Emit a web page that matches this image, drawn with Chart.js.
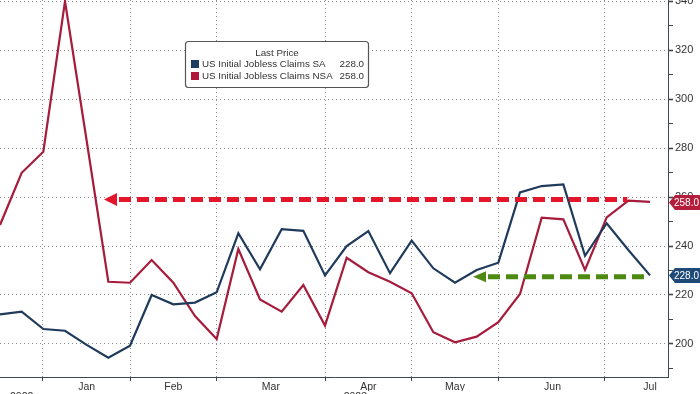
<!DOCTYPE html>
<html>
<head>
<meta charset="utf-8">
<script src="https://cdn.jsdelivr.net/npm/chart.js@4.4.0/dist/chart.umd.min.js"></script>
<style>
  html, body { margin:0; padding:0; background:#fff; overflow:hidden; }
  #wrap { width:700px; height:408px; }
</style>
</head>
<body>
<div id="wrap"><canvas id="grafica" width="700" height="408"></canvas></div>
<script>
// Datos semanales (fin de semana), eje x = indice de semana
const semanas = ['2022-12-17','2022-12-24','2022-12-31','2023-01-07','2023-01-14','2023-01-21','2023-01-28',
  '2023-02-04','2023-02-11','2023-02-18','2023-02-25','2023-03-04','2023-03-11','2023-03-18','2023-03-25',
  '2023-04-01','2023-04-08','2023-04-15','2023-04-22','2023-04-29','2023-05-06','2023-05-13','2023-05-20',
  '2023-05-27','2023-06-03','2023-06-10','2023-06-17','2023-06-24','2023-07-01','2023-07-08','2023-07-15'];
const claimsSA  = [212.1, 213.2, 206.1, 205.4, 199.6, 194.4, 199.3, 220.0, 216.2, 216.9, 221.1, 245.2, 230.5, 246.9, 246.2,
  228.0, 240.0, 246.1, 228.9, 242.2, 230.9, 225.0, 230.2, 233.2, 261.9, 264.5, 265.2, 236.0, 249.3, 238.4, 228.0];
const claimsNSA = [248.6, 269.9, 278.5, 340.0, 283.0, 225.4, 225.0, 234.3, 225.0, 211.4, 202.0, 238.8, 218.2, 213.2, 224.1,
  207.5, 235.2, 229.3, 225.4, 220.7, 204.8, 200.7, 203.0, 208.9, 220.4, 251.6, 250.9, 230.2, 251.7, 258.5, 258.0];

// Meses: inicio (lineas de grilla) y centro (etiquetas), en indice de semana
const mesesLabels = ['Jan','Feb','Mar','Apr','May','Jun','Jul'];
const mesesCentro = [4, 8, 12.5, 17, 21, 25.5, 30];
const mesesInicio = [1.94, 6, 10, 15, 19, 23, 27.9];
const anios = ['2022', '2023'];
const aniosCentro = [1, 16.4];
const yTicks = [190, 200, 210, 220, 230, 240, 250, 260, 270, 280, 290, 300, 310, 320, 330, 340];

// Flechas (nivel y rango en semanas)
const flechaRoja  = { desde: 4.8,  hasta: 28.95, nivel: 259.0 };
const flechaVerde = { desde: 21.83, hasta: 30,   nivel: 227.4 };

const AZUL = '#1f3a5a', ROJO = '#a51c3d';
const FUENTE = '"Liberation Sans", Arial, sans-serif';
const X_MAX = 30.83;

const puntos = arr => arr.map((v, i) => ({ x: i, y: v }));

function flecha(ctx, x1, x2, y, color, ancho, alto){
  ctx.save();
  ctx.strokeStyle = color; ctx.lineWidth = 5; ctx.setLineDash([12, 6]);
  ctx.beginPath(); ctx.moveTo(x1 + ancho + 2, y); ctx.lineTo(x2, y); ctx.stroke();
  ctx.setLineDash([]); ctx.fillStyle = color;
  ctx.beginPath(); ctx.moveTo(x1, y); ctx.lineTo(x1 + ancho, y - alto); ctx.lineTo(x1 + ancho, y + alto); ctx.closePath(); ctx.fill();
  ctx.restore();
}

const extras = {
  id: 'extras',
  afterDatasetsDraw(chart){
    const ctx = chart.ctx, sx = chart.scales.x, sy = chart.scales.y;
    flecha(ctx, sx.getPixelForValue(flechaRoja.desde), sx.getPixelForValue(flechaRoja.hasta), sy.getPixelForValue(flechaRoja.nivel), '#e3162b', 13, 6.5);
    flecha(ctx, sx.getPixelForValue(flechaVerde.desde), sx.getPixelForValue(flechaVerde.hasta), sy.getPixelForValue(flechaVerde.nivel), '#4e8a12', 13, 5.5);
  },
  afterDraw(chart){
    const ctx = chart.ctx, sy = chart.scales.y;
    const ds = chart.data.datasets;
    // Etiquetas del ultimo valor en el eje derecho
    ds.forEach(d => {
      const v = d.data[d.data.length - 1].y;
      const y = Math.round(sy.getPixelForValue(v)) + 0.5;
      ctx.save();
      ctx.fillStyle = d.tagColor;
      ctx.beginPath();
      ctx.moveTo(669, y); ctx.lineTo(675, y - 7.5); ctx.lineTo(700, y - 7.5); ctx.lineTo(700, y + 7.5); ctx.lineTo(675, y + 7.5);
      ctx.closePath(); ctx.fill();
      ctx.fillStyle = '#fff'; ctx.font = '10px ' + FUENTE; ctx.textAlign = 'left'; ctx.textBaseline = 'middle';
      ctx.fillText(v.toFixed(1), 674, y + 0.5);
      ctx.restore();
    });
    // Leyenda "Last Price"
    ctx.save();
    ctx.fillStyle = '#fff'; ctx.strokeStyle = '#555'; ctx.lineWidth = 1.2;
    ctx.beginPath(); ctx.roundRect(185.5, 41.5, 183, 46, 3); ctx.fill(); ctx.stroke();
    ctx.fillStyle = '#333'; ctx.font = '9.8px ' + FUENTE; ctx.textBaseline = 'middle';
    ctx.textAlign = 'center'; ctx.fillText('Last Price', 277, 53);
    ds.forEach((d, i) => {
      const y = 64 + i * 12;
      ctx.fillStyle = d.legendColor; ctx.fillRect(191, y - 4, 8, 8);
      ctx.fillStyle = '#333'; ctx.textAlign = 'left'; ctx.fillText(d.label, 202, y);
      ctx.textAlign = 'right'; ctx.fillText(d.data[d.data.length - 1].y.toFixed(1), 364, y);
    });
    ctx.restore();
  }
};

const ctx = document.getElementById('grafica').getContext('2d');
new Chart(ctx, {
  type: 'line',
  data: {
    datasets: [
      { label: 'US Initial Jobless Claims SA', data: puntos(claimsSA), borderColor: AZUL, borderWidth: 2.2,
        pointRadius: 0, tension: 0, tagColor: '#1f4a78', legendColor: '#1f3d63' },
      { label: 'US Initial Jobless Claims NSA', data: puntos(claimsNSA), borderColor: ROJO, borderWidth: 2.2,
        pointRadius: 0, tension: 0, tagColor: '#b51d3d', legendColor: '#b0173a' }
    ]
  },
  options: {
    responsive: false, animation: false,
    layout: { padding: 0, autoPadding: false },
    plugins: { legend: { display: false }, tooltip: { enabled: false } },
    scales: {
      x: { type: 'linear', position: 'bottom', min: 0, max: X_MAX, weight: 0,
        afterBuildTicks: a => { a.ticks = mesesInicio.map(v => ({ value: v })); },
        afterFit: a => { a.height = 3; a.paddingLeft = 0; a.paddingRight = 0; },
        grid: { color: '#8c8c8c', lineWidth: 1, drawTicks: true, tickLength: 4, tickColor: '#3c4650' },
        border: { display: true, color: '#3c4650', width: 1, dash: [1, 3] },
        ticks: { display: false }
      },
      xm: { type: 'linear', position: 'bottom', min: 0, max: X_MAX, weight: 1,
        afterBuildTicks: a => { a.ticks = mesesCentro.map(v => ({ value: v })); },
        afterFit: a => { a.height = 11; a.paddingLeft = 0; a.paddingRight = 0; },
        grid: { display: false, drawTicks: false }, border: { display: false },
        ticks: { color: '#333', font: { family: FUENTE, size: 10.5 }, padding: 1, maxRotation: 0, autoSkip: false,
          callback: (v, i) => mesesLabels[i] }
      },
      xy: { type: 'linear', position: 'bottom', min: 0, max: X_MAX, weight: 2,
        afterBuildTicks: a => { a.ticks = aniosCentro.map(v => ({ value: v })); },
        afterFit: a => { a.height = 17; a.paddingLeft = 0; a.paddingRight = 0; },
        grid: { display: false, drawTicks: false }, border: { display: false },
        ticks: { color: '#333', font: { family: FUENTE, size: 10.5 }, padding: 0, maxRotation: 0, autoSkip: false,
          callback: (v, i) => anios[i] }
      },
      y: { type: 'linear', position: 'right', min: 186.5, max: 340.5,
        afterBuildTicks: a => { a.ticks = yTicks.map(v => ({ value: v })); },
        afterFit: a => { a.width = 32; a.paddingTop = 0; a.paddingBottom = 0; },
        grid: { color: c => (c.tick && c.tick.value % 20 === 0) ? '#8c8c8c' : 'rgba(0,0,0,0)',
          lineWidth: 1, drawTicks: true, tickLength: 5, tickColor: '#3c4650',
          tickWidth: c => (c.tick && c.tick.value % 20 === 0) ? 1.6 : 1 },
        border: { display: true, color: '#3c4650', width: 1, dash: [1, 3] },
        ticks: { color: '#333', font: { family: FUENTE, size: 11 }, padding: 2, autoSkip: false,
          callback: v => (v % 20 === 0 ? v : '') }
      }
    }
  },
  plugins: [extras]
});
</script>
</body>
</html>
